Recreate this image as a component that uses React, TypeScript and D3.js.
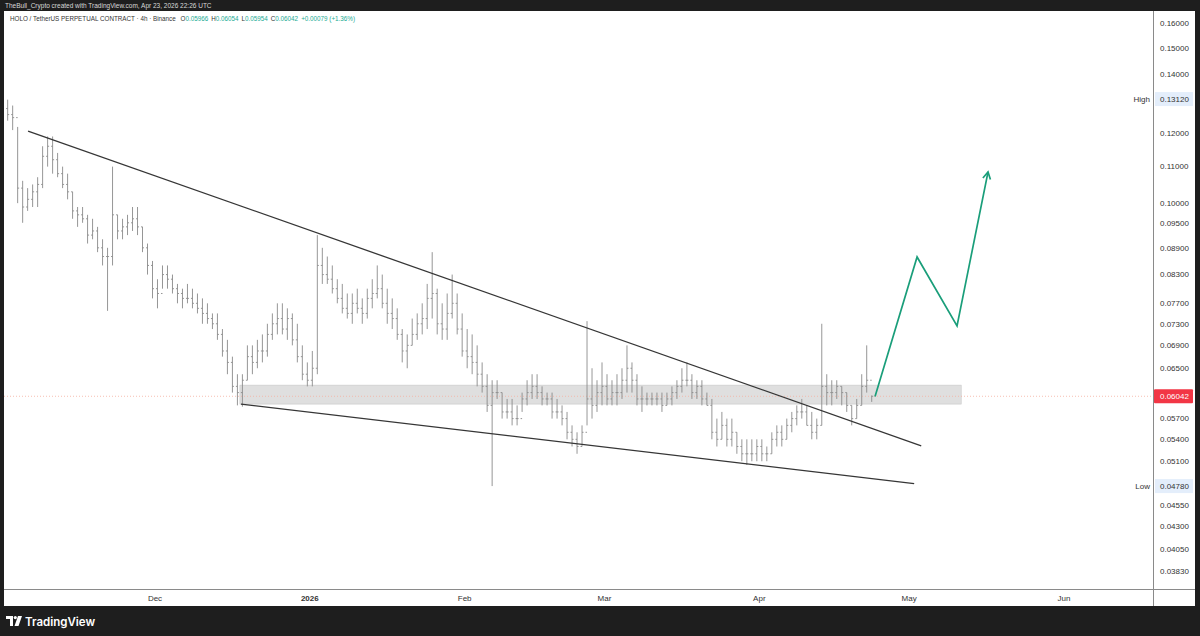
import React from 'react';
import * as d3 from 'd3';

// ---- data (daily bars) ----
const firstDay = Date.UTC(2025, 10, 1); // 1 Nov 2025
const firstOpen = 0.128;
const highs = [
  0.131, 0.129, 0.122, 0.106, 0.104, 0.105, 0.107, 0.116, 0.119, 0.119,
  0.114, 0.110, 0.108, 0.103, 0.099, 0.099, 0.097, 0.096, 0.094, 0.091,
  0.089, 0.110, 0.097, 0.096, 0.097, 0.099, 0.099, 0.094, 0.090, 0.086,
  0.082, 0.085, 0.085, 0.083, 0.081, 0.080, 0.081, 0.080, 0.079, 0.078,
  0.077, 0.075, 0.075, 0.072, 0.070, 0.067, 0.064, 0.064, 0.069, 0.069,
  0.070, 0.071, 0.073, 0.075, 0.077, 0.077, 0.076, 0.075, 0.073, 0.069,
  0.066, 0.068, 0.092, 0.089, 0.087, 0.085, 0.082, 0.081, 0.079, 0.079,
  0.080, 0.078, 0.080, 0.082, 0.085, 0.083, 0.080, 0.078, 0.076, 0.072,
  0.071, 0.074, 0.075, 0.077, 0.081, 0.088, 0.080, 0.077, 0.079, 0.083,
  0.079, 0.075, 0.072, 0.071, 0.069, 0.066, 0.064, 0.063, 0.063, 0.061,
  0.060, 0.060, 0.059, 0.061, 0.063, 0.064, 0.064, 0.062, 0.061, 0.061,
  0.060, 0.059, 0.058, 0.056, 0.055, 0.056, 0.0735, 0.065, 0.063, 0.066,
  0.064, 0.063, 0.064, 0.065, 0.069, 0.066, 0.064, 0.062, 0.061, 0.061,
  0.061, 0.061, 0.061, 0.062, 0.063, 0.065, 0.066, 0.064, 0.063, 0.063,
  0.061, 0.060, 0.057, 0.058, 0.057, 0.057, 0.055, 0.054, 0.054, 0.054,
  0.054, 0.054, 0.053, 0.055, 0.056, 0.056, 0.057, 0.058, 0.059, 0.060,
  0.059, 0.058, 0.057, 0.073, 0.064, 0.063, 0.063, 0.062, 0.061, 0.059,
  0.060, 0.064, 0.069, 0.06054,
];
const lows = [
  0.124, 0.121, 0.100, 0.095, 0.098, 0.099, 0.099, 0.104, 0.110, 0.108,
  0.107, 0.104, 0.101, 0.096, 0.094, 0.095, 0.090, 0.091, 0.088, 0.085,
  0.0755, 0.085, 0.091, 0.091, 0.092, 0.093, 0.092, 0.088, 0.083, 0.078,
  0.076, 0.080, 0.080, 0.079, 0.077, 0.076, 0.077, 0.076, 0.075, 0.073,
  0.073, 0.072, 0.070, 0.067, 0.064, 0.061, 0.059, 0.0588, 0.063, 0.064,
  0.065, 0.066, 0.067, 0.070, 0.071, 0.071, 0.070, 0.069, 0.066, 0.063,
  0.062, 0.062, 0.064, 0.081, 0.081, 0.079, 0.077, 0.075, 0.074, 0.073,
  0.075, 0.073, 0.074, 0.076, 0.078, 0.076, 0.073, 0.072, 0.070, 0.066,
  0.065, 0.069, 0.070, 0.071, 0.072, 0.074, 0.071, 0.070, 0.070, 0.074,
  0.071, 0.067, 0.065, 0.064, 0.062, 0.061, 0.058, 0.0478, 0.060, 0.057,
  0.057, 0.056, 0.056, 0.058, 0.059, 0.060, 0.060, 0.059, 0.059, 0.057,
  0.057, 0.056, 0.054, 0.053, 0.052, 0.053, 0.056, 0.057, 0.058, 0.059,
  0.059, 0.059, 0.059, 0.060, 0.061, 0.061, 0.059, 0.058, 0.059, 0.059,
  0.059, 0.058, 0.059, 0.059, 0.060, 0.061, 0.062, 0.060, 0.060, 0.059,
  0.059, 0.054, 0.053, 0.054, 0.053, 0.053, 0.052, 0.051, 0.0505, 0.051,
  0.051, 0.051, 0.051, 0.052, 0.053, 0.053, 0.054, 0.055, 0.056, 0.057,
  0.056, 0.054, 0.054, 0.056, 0.059, 0.059, 0.060, 0.059, 0.058, 0.056,
  0.057, 0.059, 0.061, 0.05954,
];
const closes = [
  0.126, 0.125, 0.104, 0.099, 0.101, 0.103, 0.105, 0.113, 0.116, 0.112,
  0.108, 0.105, 0.103, 0.098, 0.097, 0.096, 0.092, 0.093, 0.089, 0.087,
  0.087, 0.097, 0.093, 0.094, 0.095, 0.096, 0.094, 0.089, 0.085, 0.080,
  0.079, 0.083, 0.082, 0.080, 0.079, 0.078, 0.078, 0.077, 0.076, 0.075,
  0.074, 0.073, 0.071, 0.068, 0.066, 0.062, 0.061, 0.063, 0.067, 0.066,
  0.068, 0.068, 0.071, 0.073, 0.074, 0.072, 0.074, 0.070, 0.067, 0.064,
  0.063, 0.065, 0.085, 0.083, 0.082, 0.080, 0.078, 0.076, 0.075, 0.077,
  0.076, 0.075, 0.078, 0.079, 0.080, 0.077, 0.075, 0.074, 0.071, 0.068,
  0.069, 0.071, 0.073, 0.074, 0.078, 0.079, 0.073, 0.072, 0.075, 0.077,
  0.072, 0.068, 0.067, 0.066, 0.064, 0.062, 0.059, 0.061, 0.061, 0.058,
  0.058, 0.057, 0.057, 0.060, 0.061, 0.062, 0.061, 0.060, 0.060, 0.058,
  0.058, 0.057, 0.055, 0.054, 0.053, 0.055, 0.060, 0.059, 0.061, 0.062,
  0.060, 0.061, 0.061, 0.063, 0.065, 0.063, 0.060, 0.060, 0.060, 0.060,
  0.060, 0.059, 0.060, 0.061, 0.062, 0.063, 0.063, 0.061, 0.062, 0.060,
  0.059, 0.055, 0.054, 0.056, 0.054, 0.055, 0.053, 0.052, 0.052, 0.052,
  0.053, 0.052, 0.052, 0.054, 0.055, 0.054, 0.056, 0.057, 0.058, 0.058,
  0.056, 0.055, 0.056, 0.062, 0.061, 0.061, 0.062, 0.061, 0.059, 0.057,
  0.059, 0.062, 0.063, 0.06042,
];

const priceTicks = [0.16, 0.15, 0.14, 0.12, 0.11, 0.1, 0.095, 0.089, 0.083, 0.077, 0.073, 0.069, 0.065, 0.057, 0.054, 0.051, 0.0455, 0.043, 0.0405, 0.0383];
const timeTickLabels = ['Dec', '2026', 'Feb', 'Mar', 'Apr', 'May', 'Jun'];
const timeTickDates = ['2025-12-01', '2026-01-01', '2026-02-01', '2026-03-01', '2026-04-01', '2026-05-01', '2026-06-01'];

const highValue = 0.1312;
const lowValue = 0.0478;
const lastPrice = 0.06042;

const upperTrendDates = ['2025-11-05T14:00:00Z', '2026-05-03T10:00:00Z'];
const upperTrendPrices = [0.1207, 0.0531];
const lowerTrendDates = ['2025-12-18T05:00:00Z', '2026-05-02T00:00:00Z'];
const lowerTrendPrices = [0.0592, 0.0481];
const zoneDates = ['2025-12-18T00:00:00Z', '2026-05-11T10:00:00Z'];
const zonePrices = [0.0622, 0.0592];
const projDates = ['2026-04-24T04:00:00Z', '2026-05-02T14:00:00Z', '2026-05-10T14:00:00Z', '2026-05-16T19:00:00Z'];
const projPrices = [0.0604, 0.0869, 0.0726, 0.1085];

const W = 1200;
const H = 636;
const PL = 4, PR = 1153, PT = 11, PB = 589, FR = 1195, FB = 606;
const FONT = '"Liberation Sans", Arial, sans-serif';

export default function App() {
  const x = d3.scaleUtc().domain([new Date('2025-12-01T00:00:00Z'), new Date('2026-06-01T00:00:00Z')]).range([155, 1064]);
  const y = d3.scaleLog().domain([0.0383, 0.16]).range([571, 23]);
  const fmt = d3.format('.5f');
  const DAY = 86400000;

  const bars = highs.map((h, i) => {
    const cx = x(new Date(firstDay + i * DAY + DAY / 2));
    const open = i === 0 ? firstOpen : closes[i - 1];
    return { cx, h: y(h), l: y(lows[i]), o: y(open), c: y(closes[i]) };
  });

  const projPts = projDates.map((d, i) => [x(new Date(d)), y(projPrices[i])] as [number, number]);
  const line = d3.line();
  const [ax, ay] = projPts[projPts.length - 1];
  const [bx, by] = projPts[projPts.length - 2];
  const ang = Math.atan2(ay - by, ax - bx);
  const aLen = 8;
  const head = [
    [ax - aLen * Math.cos(ang - 0.5), ay - aLen * Math.sin(ang - 0.5)],
    [ax, ay],
    [ax - aLen * Math.cos(ang + 0.5), ay - aLen * Math.sin(ang + 0.5)],
  ] as [number, number][];

  const yLast = y(lastPrice);

  return (
    <svg width={W} height={H} style={{ position: 'fixed', left: 0, top: 0 }} fontFamily={FONT}>
      <rect x={0} y={0} width={W} height={H} fill="#1e1e1e" />
      <text x={5} y={8} fontSize={6.5} fill="#d8d8d8">TheBull_Crypto created with TradingView.com, Apr 23, 2026 22:26 UTC</text>
      <rect x={PL} y={PT} width={FR - PL} height={FB - PT} fill="#ffffff" />
      <defs>
        <clipPath id="plot">
          <rect x={PL} y={PT} width={PR - PL} height={PB - PT} />
        </clipPath>
      </defs>

      <g clipPath="url(#plot)">
        {/* support zone */}
        <rect
          x={x(new Date(zoneDates[0]))}
          y={y(zonePrices[0])}
          width={x(new Date(zoneDates[1])) - x(new Date(zoneDates[0]))}
          height={y(zonePrices[1]) - y(zonePrices[0])}
          fill="#d9d9d9"
          fillOpacity={0.85}
          stroke="#c8c8c8"
          strokeWidth={0.6}
        />
        {/* last price line */}
        <line x1={PL} x2={PR} y1={yLast} y2={yLast} stroke="#f6b0a0" strokeWidth={0.8} strokeDasharray="1 2" />
        {/* price bars */}
        <g stroke="#8a8a8a" strokeWidth={0.9} fill="none">
          {bars.map((b, i) => (
            <g key={i}>
              <line x1={b.cx} x2={b.cx} y1={b.h} y2={b.l} />
              <line x1={b.cx - 1.5} x2={b.cx} y1={b.o} y2={b.o} />
              <line x1={b.cx} x2={b.cx + 1.5} y1={b.c} y2={b.c} />
            </g>
          ))}
        </g>
        {/* wedge lines */}
        <line
          x1={x(new Date(upperTrendDates[0]))} y1={y(upperTrendPrices[0])}
          x2={x(new Date(upperTrendDates[1]))} y2={y(upperTrendPrices[1])}
          stroke="#363636" strokeWidth={1.3}
        />
        <line
          x1={x(new Date(lowerTrendDates[0]))} y1={y(lowerTrendPrices[0])}
          x2={x(new Date(lowerTrendDates[1]))} y2={y(lowerTrendPrices[1])}
          stroke="#363636" strokeWidth={1.3}
        />
        {/* projection */}
        <path d={line(projPts) || ''} fill="none" stroke="#1a9e7a" strokeWidth={1.7} strokeLinejoin="miter" />
        <path d={line(head) || ''} fill="none" stroke="#1a9e7a" strokeWidth={1.7} />
      </g>

      {/* legend */}
      <text x={10} y={21} fontSize={6.3} fill="#333">
        <tspan>HOLO / TetherUS PERPETUAL CONTRACT · 4h · Binance  </tspan>
        <tspan dx={3}>O</tspan><tspan fill="#22ab94">0.05966</tspan>
        <tspan dx={3}>H</tspan><tspan fill="#22ab94">0.06054</tspan>
        <tspan dx={3}>L</tspan><tspan fill="#22ab94">0.05954</tspan>
        <tspan dx={3}>C</tspan><tspan fill="#22ab94">0.06042</tspan>
        <tspan dx={3} fill="#22ab94">+0.00079 (+1.36%)</tspan>
      </text>

      {/* axes frame */}
      <line x1={PR + 0.5} x2={PR + 0.5} y1={PT} y2={FB} stroke="#8a8a8a" strokeWidth={1} />
      <line x1={PL} x2={FR} y1={PB + 0.5} y2={PB + 0.5} stroke="#8a8a8a" strokeWidth={1} />

      {/* price axis labels */}
      <g fontSize={8} fill="#333">
        {priceTicks.map((p) => (
          <text key={p} x={1160} y={y(p)} dy="0.35em">{fmt(p)}</text>
        ))}
      </g>
      {/* high / low */}
      <g fontSize={8}>
        <text x={1150} y={y(highValue)} dy="0.35em" textAnchor="end" fill="#333">High</text>
        <rect x={1155} y={y(highValue) - 7} width={38} height={14} fill="#e4eefb" />
        <text x={1160} y={y(highValue)} dy="0.35em" fill="#333">{fmt(highValue)}</text>
        <text x={1150} y={y(lowValue)} dy="0.35em" textAnchor="end" fill="#333">Low</text>
        <rect x={1155} y={y(lowValue) - 7} width={38} height={14} fill="#e4eefb" />
        <text x={1160} y={y(lowValue)} dy="0.35em" fill="#333">{fmt(lowValue)}</text>
      </g>
      {/* last price label */}
      <rect x={1154} y={yLast - 7} width={39} height={14} fill="#f23645" rx={1} />
      <text x={1160} y={yLast} dy="0.35em" fontSize={8} fill="#ffffff">{fmt(lastPrice)}</text>

      {/* time axis labels */}
      <g fontSize={8} fill="#333" textAnchor="middle">
        {timeTickLabels.map((t, i) => (
          <text key={t} x={x(new Date(timeTickDates[i] + 'T00:00:00Z'))} y={598} dy="0.35em" fontWeight={t === '2026' ? 'bold' : 'normal'}>{t}</text>
        ))}
      </g>

      {/* footer logo */}
      <g fill="#ffffff">
        <path d="M6 616 H13 V626 H10 V619 H6 Z" />
        <circle cx={15.3} cy={617.6} r={1.6} />
        <path d="M18 616 H22 L18.5 626 H14.5 Z" />
        <text x={25} y={625.5} fontSize={11.5} fontFamily='"Inter", "Open Sans", sans-serif' fontWeight={600}>TradingView</text>
      </g>
    </svg>
  );
}
